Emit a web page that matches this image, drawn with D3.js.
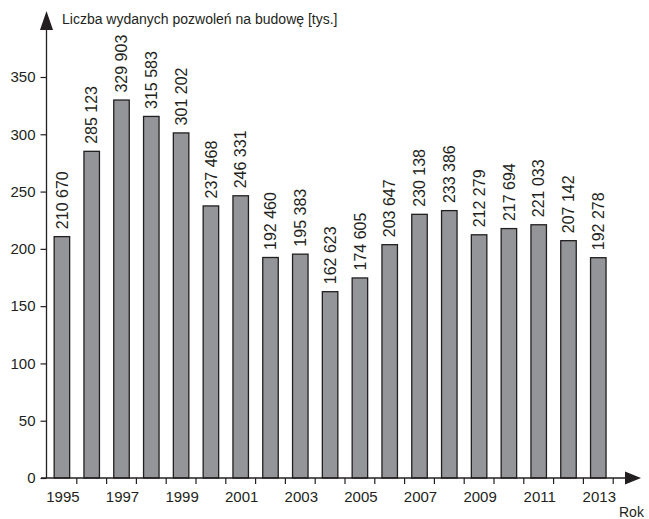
<!DOCTYPE html>
<html><head><meta charset="utf-8">
<script src="https://cdn.jsdelivr.net/npm/d3@7"></script>
<style>body{margin:0;background:#fff}svg{display:block}text{font-family:"Liberation Sans",Arial,sans-serif;fill:#231f20}</style>
</head><body><svg id="c" width="649" height="519"></svg>
<script>
const years = [1995,1996,1997,1998,1999,2000,2001,2002,2003,2004,2005,2006,2007,2008,2009,2010,2011,2012,2013];
const values = [210.670,285.123,329.903,315.583,301.202,237.468,246.331,192.460,195.383,162.623,174.605,203.647,230.138,233.386,212.279,217.694,221.033,207.142,192.278];
const valueLabels = ["210 670","285 123","329 903","315 583","301 202","237 468","246 331","192 460","195 383","162 623","174 605","203 647","230 138","233 386","212 279","217 694","221 033","207 142","192 278"];
const yTicks = [0,50,100,150,200,250,300,350];
const yearLabels = [1995,1997,1999,2001,2003,2005,2007,2009,2011,2013];
const yTitle = "Liczba wydanych pozwoleń na budowę [tys.]";
const xTitle = "Rok";

const svg = d3.select("#c");
const ink = "#231f20";
const x0 = 47, y0 = 478;
const x = d3.scaleBand().domain(years).range([x0, x0 + 29.8*years.length]).paddingInner(0.48).paddingOuter(0.24);
const y = d3.scaleLinear().domain([0,350]).range([y0, 77]);

// bars
svg.selectAll("rect.bar").data(values).join("rect")
  .attr("x",(d,i)=>x(years[i])).attr("width",x.bandwidth())
  .attr("y",d=>y(d)).attr("height",d=>y0-y(d))
  .attr("fill","#939598").attr("stroke",ink).attr("stroke-width",1.3);

// value labels
svg.selectAll("text.val").data(values).join("text")
  .attr("transform",(d,i)=>`translate(${x(years[i])+x.bandwidth()/2},${y(d)-7.5}) rotate(-90)`)
  .attr("dy","0.36em").attr("font-size",16).text((d,i)=>valueLabels[i]);

// y axis
const yAxis = d3.axisLeft(y).tickValues(yTicks).tickSize(6).tickPadding(5).tickFormat(d3.format("d"));
const ga = svg.append("g").attr("transform",`translate(${x0-0.5},0)`).call(yAxis);
ga.select(".domain").remove();
ga.selectAll("line").attr("stroke",ink).attr("stroke-width",1.2);
ga.selectAll("text").attr("font-size",15).attr("fill",ink).style("font-family","Liberation Sans, Arial, sans-serif");
svg.append("line").attr("x1",x0-0.5).attr("x2",x0-0.5).attr("y1",y0).attr("y2",26).attr("stroke",ink).attr("stroke-width",1.3);
svg.append("path").attr("d",`M${x0-0.5},11 L${x0-7},30 L${x0+6},30 Z`).attr("fill",ink);

// x axis
const xEnd = 641;
svg.append("line").attr("x1",x0-6).attr("x2",xEnd-10).attr("y1",y0).attr("y2",y0).attr("stroke",ink).attr("stroke-width",1.3);
svg.append("path").attr("d",`M${xEnd},${y0} L${xEnd-16},${y0-6.5} L${xEnd-16},${y0+6.5} Z`).attr("fill",ink);
const step = x.step();
svg.selectAll("line.xt").data(years).join("line")
  .attr("x1",(d,i)=>x0+step*(i+1)).attr("x2",(d,i)=>x0+step*(i+1))
  .attr("y1",y0).attr("y2",y0+6).attr("stroke",ink).attr("stroke-width",1.2);
svg.selectAll("text.yr").data(yearLabels).join("text")
  .attr("x",d=>x(d)+x.bandwidth()/2+1).attr("y",502).attr("text-anchor","middle").attr("font-size",15).text(d=>d);

svg.append("text").attr("x",62).attr("y",24).attr("font-size",14).text(yTitle);
svg.append("text").attr("x",619).attr("y",517).attr("font-size",14).text(xTitle);
</script></body></html>
